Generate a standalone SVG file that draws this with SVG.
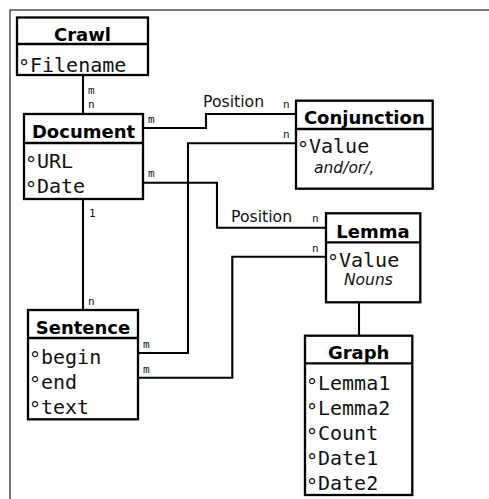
<svg xmlns="http://www.w3.org/2000/svg" width="489" height="499" viewBox="0 0 489 499">
<style>
.frame{fill:#fff;stroke:#333;stroke-width:1.3}
.box{fill:#fff;stroke:#000;stroke-width:2.3}
.div{stroke:#000;stroke-width:2.3}
.con{fill:none;stroke:#000;stroke-width:2.1}
.hd{font-family:"DejaVu Sans",sans-serif;font-weight:bold;font-size:18px;text-anchor:middle;fill:#000}
.at{font-family:"DejaVu Sans Mono",monospace;font-size:20px;fill:#111}
.lb{font-family:"DejaVu Sans Mono",monospace;font-size:11px;fill:#111}
.pos{font-family:"DejaVu Sans",sans-serif;font-size:15.7px;fill:#111}
.it{font-family:"DejaVu Sans",sans-serif;font-style:italic;font-size:15.5px;fill:#111}
.dg{font-size:20px}
</style>
<rect class="frame" x="10" y="10" width="500" height="500"/>
<g id="connectors">
<path class="con" d="M83 75V114"/>
<path class="con" d="M143 128H206V114H296"/>
<path class="con" d="M296 143.3H188V353H138"/>
<path class="con" d="M143 182.7H217V227.7H326"/>
<path class="con" d="M326 256.7H232.3V377.7H138"/>
<path class="con" d="M83 199V310"/>
<path class="con" d="M359 302.3V335.7"/>
<text class="lb" x="88" y="94">m</text>
<text class="lb" x="88" y="108">n</text>
<text class="lb" x="148" y="122.7">m</text>
<text class="pos" x="203" y="106.7">Position</text>
<text class="lb" x="283" y="108">n</text>
<text class="lb" x="283" y="138.3">n</text>
<text class="lb" x="148" y="177.3">m</text>
<text class="pos" x="231" y="221.5">Position</text>
<text class="lb" x="312" y="221.7">n</text>
<text class="lb" x="312" y="251.7">n</text>
<text class="lb" x="89" y="216.7">1</text>
<text class="lb" x="88" y="305">n</text>
<text class="lb" x="143" y="348.3">m</text>
<text class="lb" x="143" y="373.3">m</text>
</g>
<g id="crawl">
<rect class="box" x="17" y="17.5" width="131" height="57.5"/>
<line class="div" x1="17" y1="44" x2="148" y2="44"/>
<text class="hd" x="82.5" y="40.5">Crawl</text>
<text class="at" y="71.5"><tspan x="18" dy="2.5">°</tspan><tspan x="30" dy="-2.5">Filename</tspan></text>
</g>
<g id="document">
<rect class="box" x="24" y="114" width="119" height="85"/>
<line class="div" x1="24" y1="143" x2="143" y2="143"/>
<text class="hd" x="83.5" y="137.7">Document</text>
<text class="at" y="168.3"><tspan x="25" dy="2.5">°</tspan><tspan x="37" dy="-2.5">URL</tspan></text>
<text class="at" y="193.3"><tspan x="25" dy="2.5">°</tspan><tspan x="37" dy="-2.5">Date</tspan></text>
</g>
<g id="conjunction">
<rect class="box" x="296" y="100.7" width="136.7" height="88"/>
<line class="div" x1="296" y1="129" x2="432.7" y2="129"/>
<text class="hd" x="364.3" y="124.3">Conjunction</text>
<text class="at" y="153.3"><tspan x="297" dy="2.5">°</tspan><tspan x="309" dy="-2.5">Value</tspan></text>
<text class="it" x="314" y="173.3">and/or/,</text>
</g>
<g id="lemma">
<rect class="box" x="326" y="213.3" width="94.3" height="89"/>
<line class="div" x1="326" y1="242.3" x2="420.3" y2="242.3"/>
<text class="hd" x="373" y="237.7">Lemma</text>
<text class="at" y="266.7"><tspan x="327" dy="2.5">°</tspan><tspan x="339" dy="-2.5">Value</tspan></text>
<text class="it" x="344" y="285">Nouns</text>
</g>
<g id="sentence">
<rect class="box" x="28" y="310" width="110" height="109.3"/>
<line class="div" x1="28" y1="338" x2="138" y2="338"/>
<text class="hd" x="83" y="334">Sentence</text>
<text class="at" y="363.5"><tspan x="29" dy="2.5">°</tspan><tspan x="41" dy="-2.5">begin</tspan></text>
<text class="at" y="388.5"><tspan x="29" dy="2.5">°</tspan><tspan x="41" dy="-2.5">end</tspan></text>
<text class="at" y="413.5"><tspan x="29" dy="2.5">°</tspan><tspan x="41" dy="-2.5">text</tspan></text>
</g>
<g id="graph">
<rect class="box" x="305" y="335.7" width="107.3" height="159.3"/>
<line class="div" x1="305" y1="363.3" x2="412.3" y2="363.3"/>
<text class="hd" x="358.7" y="359">Graph</text>
<text class="at" y="390"><tspan x="306" dy="2.5">°</tspan><tspan x="318" dy="-2.5">Lemma1</tspan></text>
<text class="at" y="415"><tspan x="306" dy="2.5">°</tspan><tspan x="318" dy="-2.5">Lemma2</tspan></text>
<text class="at" y="440"><tspan x="306" dy="2.5">°</tspan><tspan x="318" dy="-2.5">Count</tspan></text>
<text class="at" y="465"><tspan x="306" dy="2.5">°</tspan><tspan x="318" dy="-2.5">Date1</tspan></text>
<text class="at" y="490"><tspan x="306" dy="2.5">°</tspan><tspan x="318" dy="-2.5">Date2</tspan></text>
</g>
</svg>
